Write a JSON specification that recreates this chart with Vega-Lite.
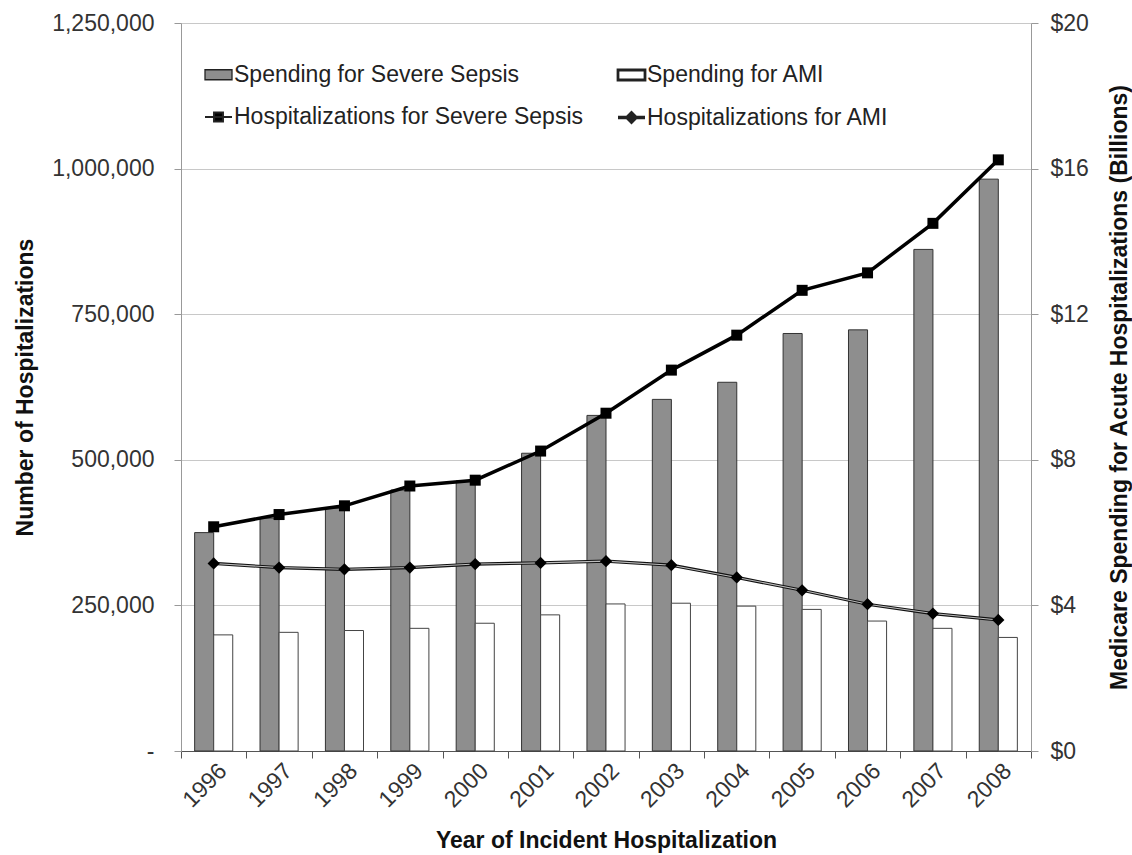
{
  "$schema": "https://vega.github.io/schema/vega-lite/v6.json",
  "width": 850,
  "height": 728,
  "padding": {"left": 14, "top": 12, "right": 0, "bottom": 0},
  "background": "white",
  "config": {
    "font": "Liberation Sans",
    "view": {"stroke": null},
    "axis": {
      "labelFont": "Liberation Sans",
      "labelFontSize": 23,
      "labelColor": "#333",
      "titleFont": "Liberation Sans",
      "titleFontSize": 23,
      "titleFontWeight": "bold",
      "titleColor": "#111",
      "tickSize": 7,
      "tickColor": "#888",
      "domainColor": "#888"
    }
  },
  "datasets": {
    "spending": [
      {"Year": 1996, "Series": "Spending for Severe Sepsis", "Billions": 6.0},
      {"Year": 1997, "Series": "Spending for Severe Sepsis", "Billions": 6.4},
      {"Year": 1998, "Series": "Spending for Severe Sepsis", "Billions": 6.67},
      {"Year": 1999, "Series": "Spending for Severe Sepsis", "Billions": 7.17},
      {"Year": 2000, "Series": "Spending for Severe Sepsis", "Billions": 7.42},
      {"Year": 2001, "Series": "Spending for Severe Sepsis", "Billions": 8.18},
      {"Year": 2002, "Series": "Spending for Severe Sepsis", "Billions": 9.22},
      {"Year": 2003, "Series": "Spending for Severe Sepsis", "Billions": 9.66},
      {"Year": 2004, "Series": "Spending for Severe Sepsis", "Billions": 10.13},
      {"Year": 2005, "Series": "Spending for Severe Sepsis", "Billions": 11.47},
      {"Year": 2006, "Series": "Spending for Severe Sepsis", "Billions": 11.57},
      {"Year": 2007, "Series": "Spending for Severe Sepsis", "Billions": 13.78},
      {"Year": 2008, "Series": "Spending for Severe Sepsis", "Billions": 15.71},
      {"Year": 1996, "Series": "Spending for AMI", "Billions": 3.19},
      {"Year": 1997, "Series": "Spending for AMI", "Billions": 3.26},
      {"Year": 1998, "Series": "Spending for AMI", "Billions": 3.31},
      {"Year": 1999, "Series": "Spending for AMI", "Billions": 3.37},
      {"Year": 2000, "Series": "Spending for AMI", "Billions": 3.51},
      {"Year": 2001, "Series": "Spending for AMI", "Billions": 3.74},
      {"Year": 2002, "Series": "Spending for AMI", "Billions": 4.04},
      {"Year": 2003, "Series": "Spending for AMI", "Billions": 4.06},
      {"Year": 2004, "Series": "Spending for AMI", "Billions": 3.98},
      {"Year": 2005, "Series": "Spending for AMI", "Billions": 3.89},
      {"Year": 2006, "Series": "Spending for AMI", "Billions": 3.57},
      {"Year": 2007, "Series": "Spending for AMI", "Billions": 3.37},
      {"Year": 2008, "Series": "Spending for AMI", "Billions": 3.12}
    ],
    "hosp": [
      {"Year": 1996, "Series": "Hospitalizations for Severe Sepsis", "Hospitalizations": 385000},
      {"Year": 1997, "Series": "Hospitalizations for Severe Sepsis", "Hospitalizations": 406000},
      {"Year": 1998, "Series": "Hospitalizations for Severe Sepsis", "Hospitalizations": 421000},
      {"Year": 1999, "Series": "Hospitalizations for Severe Sepsis", "Hospitalizations": 455000},
      {"Year": 2000, "Series": "Hospitalizations for Severe Sepsis", "Hospitalizations": 465000},
      {"Year": 2001, "Series": "Hospitalizations for Severe Sepsis", "Hospitalizations": 515000},
      {"Year": 2002, "Series": "Hospitalizations for Severe Sepsis", "Hospitalizations": 580000},
      {"Year": 2003, "Series": "Hospitalizations for Severe Sepsis", "Hospitalizations": 654000},
      {"Year": 2004, "Series": "Hospitalizations for Severe Sepsis", "Hospitalizations": 714000},
      {"Year": 2005, "Series": "Hospitalizations for Severe Sepsis", "Hospitalizations": 791000},
      {"Year": 2006, "Series": "Hospitalizations for Severe Sepsis", "Hospitalizations": 821000},
      {"Year": 2007, "Series": "Hospitalizations for Severe Sepsis", "Hospitalizations": 906000},
      {"Year": 2008, "Series": "Hospitalizations for Severe Sepsis", "Hospitalizations": 1015000},
      {"Year": 1996, "Series": "Hospitalizations for AMI", "Hospitalizations": 322000},
      {"Year": 1997, "Series": "Hospitalizations for AMI", "Hospitalizations": 315000},
      {"Year": 1998, "Series": "Hospitalizations for AMI", "Hospitalizations": 312000},
      {"Year": 1999, "Series": "Hospitalizations for AMI", "Hospitalizations": 315000},
      {"Year": 2000, "Series": "Hospitalizations for AMI", "Hospitalizations": 321000},
      {"Year": 2001, "Series": "Hospitalizations for AMI", "Hospitalizations": 323000},
      {"Year": 2002, "Series": "Hospitalizations for AMI", "Hospitalizations": 326000},
      {"Year": 2003, "Series": "Hospitalizations for AMI", "Hospitalizations": 319000},
      {"Year": 2004, "Series": "Hospitalizations for AMI", "Hospitalizations": 298000},
      {"Year": 2005, "Series": "Hospitalizations for AMI", "Hospitalizations": 276000},
      {"Year": 2006, "Series": "Hospitalizations for AMI", "Hospitalizations": 252000},
      {"Year": 2007, "Series": "Hospitalizations for AMI", "Hospitalizations": 236000},
      {"Year": 2008, "Series": "Hospitalizations for AMI", "Hospitalizations": 225000}
    ]
  },
  "layer": [
    {
      "data": {"name": "spending"},
      "layer": [
        {
          "transform": [{"filter": "datum.Series === 'Spending for Severe Sepsis'"}],
          "mark": {"type": "bar", "fill": "#8e8e8e", "stroke": "#333", "strokeWidth": 1},
          "encoding": {
            "x": {
              "field": "Year", "type": "ordinal",
              "scale": {"paddingInner": 0, "paddingOuter": 0},
              "axis": {
                "title": "Year of Incident Hospitalization",
                "labelAngle": -45, "labelAlign": "right", "labelBaseline": "middle",
                "tickBand": "extent", "domainColor": "#555", "tickColor": "#555",
                "labelPadding": 9, "labelOffset": 9, "titlePadding": 18, "grid": false
              }
            },
            "xOffset": {
              "field": "Series", "type": "nominal",
              "scale": {"domain": ["Spending for Severe Sepsis", "Spending for AMI"], "paddingInner": 0, "paddingOuter": 0.716}
            },
            "y": {
              "field": "Billions", "type": "quantitative",
              "scale": {"domain": [0, 20], "nice": false},
              "axis": {
                "orient": "right",
                "title": "Medicare Spending for Acute Hospitalizations (Billions)",
                "values": [0, 4, 8, 12, 16, 20],
                "labelExpr": "'$' + datum.value",
                "grid": false, "labelPadding": 12, "titlePadding": 20,
                "titleAngle": 270, "titleBaseline": "top",
                "domainColor": "#999", "tickColor": "#999"
              }
            }
          }
        },
        {
          "transform": [{"filter": "datum.Series === 'Spending for AMI'"}],
          "mark": {"type": "bar", "fill": "#ffffff", "stroke": "#444", "strokeWidth": 1},
          "encoding": {
            "x": {"field": "Year", "type": "ordinal", "title": "Year of Incident Hospitalization"},
            "xOffset": {
              "field": "Series", "type": "nominal",
              "scale": {"domain": ["Spending for Severe Sepsis", "Spending for AMI"], "paddingInner": 0, "paddingOuter": 0.716}
            },
            "y": {"field": "Billions", "type": "quantitative", "scale": {"domain": [0, 20], "nice": false}}
          }
        }
      ]
    },
    {
      "data": {"name": "hosp"},
      "layer": [
        {
          "transform": [{"filter": "datum.Series === 'Hospitalizations for Severe Sepsis'"}],
          "mark": {"type": "line", "color": "#000", "strokeWidth": 3.5},
          "encoding": {
            "x": {"field": "Year", "type": "ordinal", "title": "Year of Incident Hospitalization"},
            "y": {
              "field": "Hospitalizations", "type": "quantitative",
              "scale": {"domain": [0, 1250000], "nice": false},
              "axis": {
                "orient": "left",
                "title": "Number of Hospitalizations",
                "values": [0, 250000, 500000, 750000, 1000000, 1250000],
                "labelExpr": "datum.value === 0 ? '-' : format(datum.value, ',')",
                "grid": true, "gridColor": "#c8c8c8",
                "labelPadding": 20, "titlePadding": 14,
                "domainColor": "#999", "tickColor": "#999"
              }
            }
          }
        },
        {
          "transform": [{"filter": "datum.Series === 'Hospitalizations for AMI'"}],
          "mark": {"type": "line", "color": "#111", "strokeWidth": 3.2},
          "encoding": {
            "x": {"field": "Year", "type": "ordinal", "title": "Year of Incident Hospitalization"},
            "y": {"field": "Hospitalizations", "type": "quantitative", "scale": {"domain": [0, 1250000], "nice": false}}
          }
        },
        {
          "transform": [{"filter": "datum.Series === 'Hospitalizations for AMI'"}],
          "mark": {"type": "line", "color": "#bdbdbd", "strokeWidth": 1.1},
          "encoding": {
            "x": {"field": "Year", "type": "ordinal", "title": "Year of Incident Hospitalization"},
            "y": {"field": "Hospitalizations", "type": "quantitative", "scale": {"domain": [0, 1250000], "nice": false}}
          }
        },
        {
          "transform": [{"filter": "datum.Series === 'Hospitalizations for Severe Sepsis'"}],
          "mark": {"type": "point", "shape": "square", "filled": true, "color": "#000", "size": 121, "opacity": 1},
          "encoding": {
            "x": {"field": "Year", "type": "ordinal", "title": "Year of Incident Hospitalization"},
            "y": {"field": "Hospitalizations", "type": "quantitative", "scale": {"domain": [0, 1250000], "nice": false}}
          }
        },
        {
          "transform": [{"filter": "datum.Series === 'Hospitalizations for AMI'"}],
          "mark": {"type": "point", "shape": "diamond", "filled": true, "color": "#000", "size": 150, "opacity": 1},
          "encoding": {
            "x": {"field": "Year", "type": "ordinal", "title": "Year of Incident Hospitalization"},
            "y": {"field": "Hospitalizations", "type": "quantitative", "scale": {"domain": [0, 1250000], "nice": false}}
          }
        },
        {
          "transform": [{"filter": "false"}],
          "mark": {"type": "point", "filled": true, "size": 729, "opacity": 1, "stroke": "#222", "strokeWidth": 1.5},
          "encoding": {
            "x": {"field": "Year", "type": "ordinal", "title": "Year of Incident Hospitalization"},
            "y": {"field": "Hospitalizations", "type": "quantitative", "scale": {"domain": [0, 1250000], "nice": false}},
            "fill": {
              "field": "Series", "type": "nominal",
              "scale": {
                "domain": ["Spending for Severe Sepsis", "Hospitalizations for Severe Sepsis", "Spending for AMI", "Hospitalizations for AMI"],
                "range": ["#8e8e8e", "#000000", "#ffffff", "#000000"]
              },
              "legend": {
                "orient": "none", "legendX": 22, "legendY": 37, "columns": 2, "title": null,
                "labelFont": "Liberation Sans", "labelFontSize": 23, "labelColor": "#222", "labelLimit": 600,
                "symbolSize": 729, "labelOffset": 0, "columnPadding": 28, "rowPadding": 15
              }
            },
            "shape": {
              "field": "Series", "type": "nominal",
              "scale": {
                "domain": ["Spending for Severe Sepsis", "Hospitalizations for Severe Sepsis", "Spending for AMI", "Hospitalizations for AMI"],
                "range": ["M-1,-0.37H1V0.37H-1Z", "M-1,0H1M-0.33,-0.33H0.33V0.33H-0.33Z", "M-1,-0.37H1V0.37H-1Z", "M-1,0H1M0,-0.33L0.33,0L0,0.33L-0.33,0Z"]
              },
              "legend": {
                "orient": "none", "legendX": 22, "legendY": 37, "columns": 2, "title": null,
                "labelFont": "Liberation Sans", "labelFontSize": 23, "labelColor": "#222", "labelLimit": 600,
                "symbolSize": 729, "labelOffset": 0, "columnPadding": 28, "rowPadding": 15
              }
            },
            "strokeWidth": {
              "field": "Series", "type": "nominal",
              "scale": {
                "domain": ["Spending for Severe Sepsis", "Hospitalizations for Severe Sepsis", "Spending for AMI", "Hospitalizations for AMI"],
                "range": [1.3, 3.5, 1.3, 2]
              },
              "legend": {
                "orient": "none", "legendX": 22, "legendY": 37, "columns": 2, "title": null,
                "labelFont": "Liberation Sans", "labelFontSize": 23, "labelColor": "#222", "labelLimit": 600,
                "symbolSize": 729, "labelOffset": 0, "columnPadding": 28, "rowPadding": 15
              }
            }
          }
        }
      ]
    }
  ],
  "resolve": {"scale": {"y": "independent"}}
}
